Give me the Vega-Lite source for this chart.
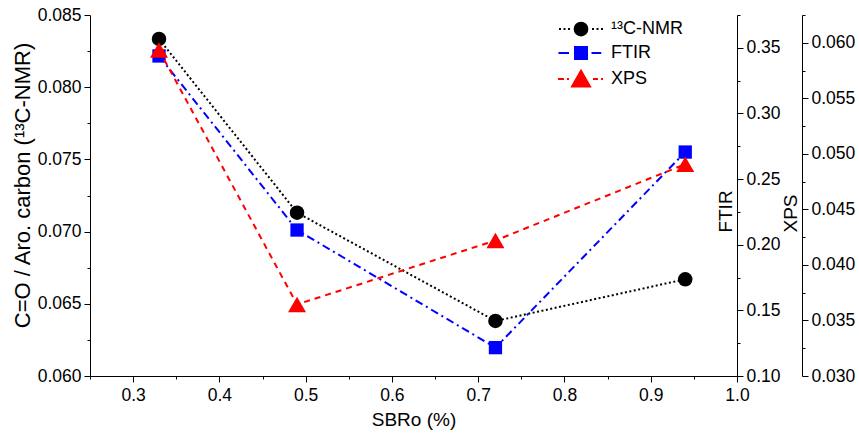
{
  "$schema": "https://vega.github.io/schema/vega-lite/v6.json",
  "width": 647,
  "height": 361,
  "autosize": {"type": "none"},
  "padding": {"left": 90, "top": 15, "right": 122, "bottom": 59},
  "config": {
    "view": {"stroke": null},
    "font": "Liberation Sans",
    "axis": {
      "grid": false,
      "domainColor": "black",
      "tickColor": "black",
      "labelColor": "black",
      "titleColor": "black",
      "labelFontSize": 17.5,
      "titleFontSize": 19,
      "titleFontWeight": "normal",
      "labelFont": "Liberation Sans",
      "titleFont": "Liberation Sans",
      "labelOverlap": false,
      "labelFlush": false,
      "labelBound": false
    }
  },
  "data": {
    "values": [
      {"SBRo": 0.33, "method": "¹³C-NMR", "value": 0.08334},
      {"SBRo": 0.49, "method": "¹³C-NMR", "value": 0.07131},
      {"SBRo": 0.72, "method": "¹³C-NMR", "value": 0.06381},
      {"SBRo": 0.94, "method": "¹³C-NMR", "value": 0.0667},
      {"SBRo": 0.33, "method": "FTIR", "value": 0.3438},
      {"SBRo": 0.49, "method": "FTIR", "value": 0.2112},
      {"SBRo": 0.72, "method": "FTIR", "value": 0.1216},
      {"SBRo": 0.94, "method": "FTIR", "value": 0.2706},
      {"SBRo": 0.33, "method": "XPS", "value": 0.05935},
      {"SBRo": 0.49, "method": "XPS", "value": 0.03644},
      {"SBRo": 0.72, "method": "XPS", "value": 0.0422},
      {"SBRo": 0.94, "method": "XPS", "value": 0.04907}
    ]
  },
  "encoding": {
    "x": {
      "field": "SBRo",
      "type": "quantitative",
      "scale": {"domain": [0.25, 1.0], "nice": false, "zero": false},
      "axis": {
        "title": "SBRo (%)",
        "values": [0.25, 0.3, 0.35, 0.4, 0.45, 0.5, 0.55, 0.6, 0.65, 0.7, 0.75, 0.8, 0.85, 0.9, 0.95, 1.0],
        "labelExpr": "abs(datum.value*10 - round(datum.value*10)) < 0.001 ? format(datum.value, '.1f') : ''",
        "tickSize": {"condition": {"test": "abs(datum.value*10 - round(datum.value*10)) < 0.001", "value": 6}, "value": 3},
        "labelPadding": 4,
        "titlePadding": 7
      }
    }
  },
  "layer": [
    {
      "transform": [{"filter": "datum.method === '¹³C-NMR'"}],
      "encoding": {
        "y": {
          "field": "value",
          "type": "quantitative",
          "scale": {"domain": [0.06, 0.085], "nice": false, "zero": false},
          "axis": {
            "orient": "left",
            "title": "C=O / Aro. carbon (¹³C-NMR)",
            "titleFontSize": 22,
            "values": [0.06, 0.0625, 0.065, 0.0675, 0.07, 0.0725, 0.075, 0.0775, 0.08, 0.0825, 0.085],
            "labelExpr": "abs(datum.value*200 - round(datum.value*200)) < 0.001 ? format(datum.value, '.3f') : ''",
            "tickSize": {"condition": {"test": "abs(datum.value*200 - round(datum.value*200)) < 0.001", "value": 6}, "value": 3},
            "labelPadding": 3,
            "titleAngle": -90,
            "titleX": -68,
            "titleY": 170,
            "titleAlign": "center",
            "titleBaseline": "middle"
          }
        }
      },
      "layer": [
        {"mark": {"type": "line", "color": "black", "strokeWidth": 2, "strokeDash": [2, 2.5]}, "encoding": {}},
        {
          "mark": {"type": "point", "shape": "circle", "filled": true, "size": 210, "opacity": 1},
          "encoding": {
            "color": {
              "field": "method",
              "type": "nominal",
              "scale": {"domain": ["¹³C-NMR", "FTIR", "XPS"], "range": ["#000000", "#0000ff", "#ff0000"]},
              "legend": {
                "orient": "none",
                "legendX": 482,
                "legendY": 5,
                "title": null,
                "padding": 0,
                "labelFontSize": 18,
                "labelFont": "Liberation Sans",
                "labelColor": "black",
                "labelOffset": 21,
                "symbolSize": 225,
                "symbolStrokeWidth": 2,
                "symbolStrokeColor": {"expr": "datum.value === 'FTIR' ? '#0000ff' : (datum.value === 'XPS' ? '#ff0000' : '#000000')"},
                "symbolType": {"expr": "datum.value === 'FTIR' ? 'M-3,0H-1.6M-0.8,-0.8H0.8V0.8H-0.8ZM1.4,0H2.7' : (datum.value === 'XPS' ? 'M-3.07,0H-2.27M-1.87,0H-1.6M0,-1.1L1.2,1L-1.2,1ZM1.6,0H2.27M2.67,0H2.93' : 'M-2.93,0H-2.67M-2.33,0H-2.07M-1.73,0H-1.47M-0.85,0A0.85,0.85,0,1,0,0.85,0A0.85,0.85,0,1,0,-0.85,0ZM1.47,0H1.73M2.07,0H2.33M2.67,0H2.93')"},
                "rowPadding": 3
              }
            }
          }
        }
      ]
    },
    {
      "transform": [{"filter": "datum.method === 'FTIR'"}],
      "encoding": {
        "y": {
          "field": "value",
          "type": "quantitative",
          "scale": {"domain": [0.1, 0.375], "nice": false, "zero": false},
          "axis": {
            "orient": "right",
            "title": "FTIR",
            "values": [0.1, 0.125, 0.15, 0.175, 0.2, 0.225, 0.25, 0.275, 0.3, 0.325, 0.35, 0.375],
            "labelExpr": "abs(datum.value*20 - round(datum.value*20)) < 0.001 ? format(datum.value, '.2f') : ''",
            "tickSize": {"condition": {"test": "abs(datum.value*20 - round(datum.value*20)) < 0.001", "value": 6}, "value": 3},
            "labelPadding": 3,
            "titleAngle": -90,
            "titleX": -12,
            "titleY": 196,
            "titleAlign": "center",
            "titleBaseline": "middle"
          }
        }
      },
      "layer": [
        {"mark": {"type": "line", "color": "#0000ff", "strokeWidth": 2, "strokeDash": [8, 4, 2, 4]}, "encoding": {}},
        {"mark": {"type": "point", "shape": "square", "filled": true, "size": 177, "opacity": 1, "color": "#0000ff"}, "encoding": {}}
      ]
    },
    {
      "transform": [{"filter": "datum.method === 'XPS'"}],
      "encoding": {
        "y": {
          "field": "value",
          "type": "quantitative",
          "scale": {"domain": [0.03, 0.0625], "nice": false, "zero": false},
          "axis": {
            "orient": "right",
            "offset": 65,
            "title": "XPS",
            "values": [0.03, 0.0325, 0.035, 0.0375, 0.04, 0.0425, 0.045, 0.0475, 0.05, 0.0525, 0.055, 0.0575, 0.06, 0.0625],
            "labelExpr": "abs(datum.value*200 - round(datum.value*200)) < 0.001 ? format(datum.value, '.3f') : ''",
            "tickSize": {"condition": {"test": "abs(datum.value*200 - round(datum.value*200)) < 0.001", "value": 6}, "value": 3},
            "labelPadding": 3,
            "titleAngle": -90,
            "titleX": -12,
            "titleY": 198,
            "titleAlign": "center",
            "titleBaseline": "middle"
          }
        }
      },
      "layer": [
        {"mark": {"type": "line", "color": "#ff0000", "strokeWidth": 2, "strokeDash": [6, 5]}, "encoding": {}},
        {"mark": {"type": "point", "shape": "triangle-up", "filled": true, "size": 324, "opacity": 1, "color": "#ff0000"}, "encoding": {}}
      ]
    }
  ],
  "resolve": {"scale": {"y": "independent"}}
}
